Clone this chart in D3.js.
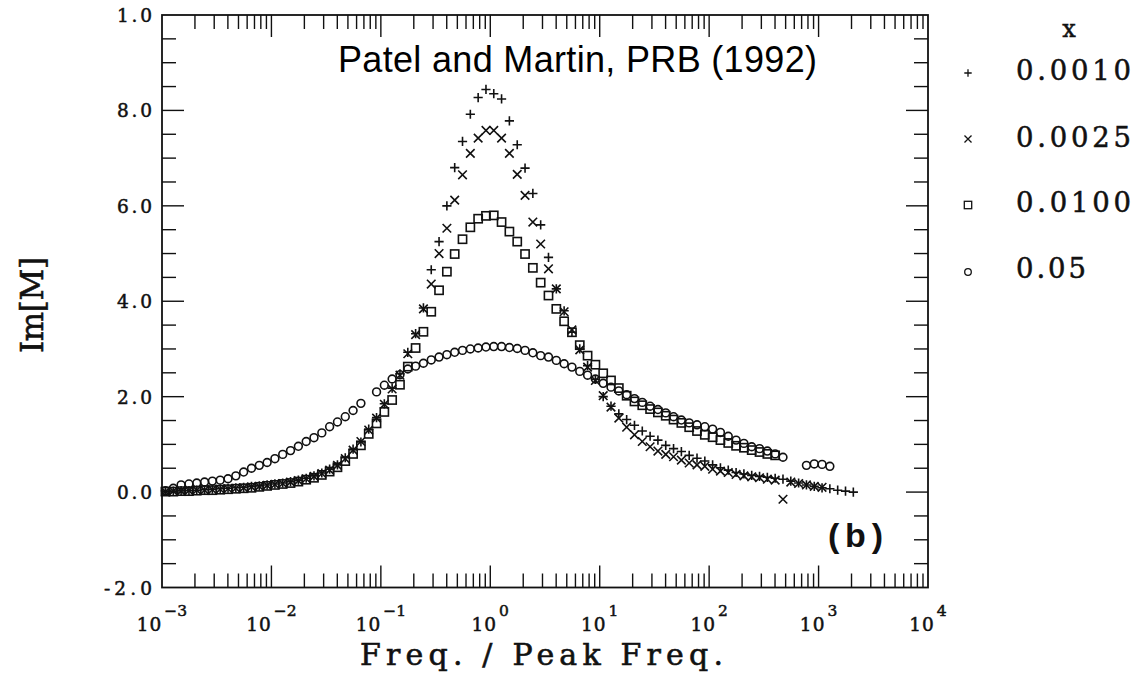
<!DOCTYPE html>
<html>
<head>
<meta charset="utf-8">
<script src="https://cdn.jsdelivr.net/npm/d3@7"></script>
<style>
  body { margin: 0; background: #fff; }
  svg { display: block; }
</style>
</head>
<body>
<svg id="chart" width="1140" height="682"></svg>
<script>
// ---- Data ----
const freq = [
  0.001076, 0.001268, 0.001495, 0.001763, 0.002078, 0.002449, 0.002887, 0.003403, 0.004012, 0.004729, 0.005575, 0.006572, 0.007747, 0.009132,
  0.01076, 0.01268, 0.01495, 0.01763, 0.02078, 0.02449, 0.02887, 0.03403, 0.04012, 0.04729, 0.05575, 0.06572, 0.07747, 0.09132,
  0.1076, 0.1268, 0.1495, 0.1763, 0.2078, 0.2449, 0.2887, 0.3403, 0.4012, 0.4729, 0.5575, 0.6572, 0.7747, 0.9132,
  1.076, 1.268, 1.495, 1.763, 2.078, 2.449, 2.887, 3.403, 4.012, 4.729, 5.575, 6.572, 7.747, 9.132,
  10.76, 12.68, 14.95, 17.63, 20.78, 24.49, 28.87, 34.03, 40.12, 47.29, 55.75, 65.72, 77.47, 91.32,
  107.6, 126.8, 149.5, 176.3, 207.8, 244.9, 288.7, 340.3, 401.2, 472.9, 557.5, 657.2, 774.7, 913.2,
  1076, 1268, 1495, 1763, 2078, 2449
];

const seriesLabels = ["0.0010", "0.0025", "0.0100", "0.05"];
const seriesSymbols = ["plus", "cross", "square", "circle"];

const valsX0010 = [
  0.02, 0.02, 0.03, 0.03, 0.04, 0.05, 0.06, 0.07, 0.08, 0.09, 0.10, 0.12, 0.13, 0.15,
  0.17, 0.19, 0.22, 0.25, 0.29, 0.34, 0.40, 0.48, 0.57, 0.72, 0.90, 1.05, 1.32, 1.56,
  1.85, 2.18, 2.48, 2.93, 3.32, 3.86, 4.66, 5.25, 6.00, 6.80, 7.35, 7.92, 8.27, 8.44,
  8.35, 8.24, 7.78, 7.28, 6.79, 6.26, 5.60, 4.92, 4.26, 3.80, 3.35, 3.00, 2.65, 2.36,
  2.00, 1.80, 1.64, 1.52, 1.40, 1.28, 1.17, 1.09, 0.98, 0.91, 0.85, 0.77, 0.71, 0.65,
  0.57, 0.51, 0.46, 0.41, 0.38, 0.35, 0.33, 0.31, 0.29, 0.27, 0.23, 0.19, 0.15, 0.12,
  0.09, 0.07, 0.04, 0.02, 0.00, null
];

const valsX0025 = [
  0.01, 0.02, 0.02, 0.03, 0.04, 0.04, 0.05, 0.06, 0.07, 0.08, 0.09, 0.11, 0.12, 0.14,
  0.16, 0.18, 0.21, 0.24, 0.28, 0.33, 0.39, 0.46, 0.56, 0.70, 0.88, 1.06, 1.30, 1.55,
  1.84, 2.16, 2.45, 2.90, 3.30, 3.84, 4.36, 5.00, 5.53, 6.12, 6.65, 7.10, 7.42, 7.58,
  7.58, 7.42, 7.10, 6.66, 6.22, 5.66, 5.20, 4.68, 4.26, 3.78, 3.40, 2.98, 2.62, 2.34,
  2.02, 1.78, 1.55, 1.36, 1.20, 1.06, 0.95, 0.86, 0.79, 0.74, 0.67, 0.61, 0.57, 0.54,
  0.48, 0.44, 0.41, 0.37, 0.34, 0.32, 0.30, 0.27, 0.25, -0.15, 0.21, 0.18, 0.15, 0.12,
  0.10, null, null, null, null, null
];

const valsX0100 = [
  0.01, 0.01, 0.02, 0.02, 0.03, 0.04, 0.04, 0.05, 0.06, 0.07, 0.08, 0.09, 0.11, 0.13,
  0.15, 0.17, 0.19, 0.22, 0.26, 0.30, 0.36, 0.43, 0.52, 0.65, 0.80, 0.98, 1.22, 1.44,
  1.68, 1.93, 2.25, 2.63, 3.02, 3.36, 3.78, 4.23, 4.62, 4.99, 5.30, 5.55, 5.73, 5.79,
  5.80, 5.66, 5.46, 5.25, 4.99, 4.70, 4.39, 4.12, 3.84, 3.58, 3.35, 3.08, 2.86, 2.67,
  2.49, 2.34, 2.18, 2.02, 1.90, 1.82, 1.74, 1.67, 1.60, 1.52, 1.45, 1.36, 1.28, 1.20,
  1.15, 1.09, 1.03, 0.97, 0.93, 0.88, 0.84, 0.80, 0.77, null, null, null, null, null,
  null, null, null, null, null, null
];

const valsX05 = [
  0.03, 0.08, 0.15, 0.17, 0.19, 0.21, 0.23, 0.25, 0.28, 0.34, 0.42, 0.50, 0.56, 0.62,
  0.70, 0.79, 0.87, 0.96, 1.06, 1.14, 1.24, 1.37, 1.47, 1.58, 1.71, 1.86, null, 2.10,
  2.24, 2.37, 2.46, 2.58, 2.64, 2.70, 2.77, 2.83, 2.88, 2.93, 2.97, 3.00, 3.02, 3.04,
  3.05, 3.05, 3.03, 3.01, 2.97, 2.92, 2.86, 2.83, 2.76, 2.69, 2.62, 2.53, 2.45, 2.37,
  2.28, 2.20, 2.12, 2.04, 1.96, 1.88, 1.80, 1.73, 1.66, 1.58, 1.51, 1.45, 1.41, 1.37,
  1.32, 1.25, 1.17, 1.09, 1.02, 0.95, 0.91, 0.86, 0.80, 0.73, null, null, 0.56, 0.59,
  0.58, 0.54, null, null, null, null
];

const yTickValues = [10, 8, 6, 4, 2, 0, -2];
const yTickLabels = ["1.0", "8.0", "6.0", "4.0", "2.0", "0.0", "-2.0"];
const xTickExponents = [-3, -2, -1, 0, 1, 2, 3, 4];

const annotation = "Patel and Martin, PRB (1992)";
const panelLabel = "(b)";
const xTitle = "Freq. / Peak Freq.";
const yTitle = "Im[M]";
const legendTitle = "x";

// ---- Layout ----
const svg = d3.select("#chart");
const L = 162, R = 928, T = 15, B = 587.5;
const x = d3.scaleLog().domain([1e-3, 1e4]).range([L, R]);
const y = d3.scaleLinear().domain([-2, 10]).range([B, T]);
const ink = "#111";
const serif = "'DejaVu Serif', 'Liberation Serif', serif";

function thicken(sel, w) {
  return sel.attr("stroke", ink).attr("stroke-width", w).attr("paint-order", "stroke");
}

// ---- Ticks ----
const tickG = svg.append("g").attr("stroke", ink).attr("stroke-width", 1.4);
const xMinor = [];
for (let d = -3; d < 4; d++) for (let m = 1; m <= 9; m++) xMinor.push({v: m * Math.pow(10, d), major: m === 1});
xMinor.filter(t => t.v > 1e-3 && t.v < 1e4).forEach(t => {
  const len = t.major ? 22 : 14;
  const px = x(t.v);
  tickG.append("line").attr("x1", px).attr("x2", px).attr("y1", B).attr("y2", B - len);
  tickG.append("line").attr("x1", px).attr("x2", px).attr("y1", T).attr("y2", T + len);
});
d3.range(-1.5, 10, 0.5).forEach(v => {
  const major = Math.abs(v % 2) < 1e-9;
  const len = major ? 22 : 14;
  const py = y(v);
  tickG.append("line").attr("x1", L).attr("x2", L + len).attr("y1", py).attr("y2", py);
  tickG.append("line").attr("x1", R).attr("x2", R - len).attr("y1", py).attr("y2", py);
});

// ---- Frame ----
svg.append("rect").attr("x", L).attr("y", T).attr("width", R - L).attr("height", B - T)
  .attr("fill", "none").attr("stroke", ink).attr("stroke-width", 1.8);

// ---- Y tick labels ----
yTickValues.forEach((v, i) => {
  const lab = yTickLabels[i];
  thicken(svg.append("text"), 0.5)
    .attr("x", 152).attr("y", y(v) + 7)
    .attr("text-anchor", "end")
    .attr("font-family", serif).attr("font-size", 18.5)
    .attr("textLength", lab.length === 4 ? 48 : 35)
    .attr("lengthAdjust", "spacing")
    .attr("fill", ink)
    .text(lab);
});

// ---- X tick labels (10^n) ----
xTickExponents.forEach(e => {
  const px = x(Math.pow(10, e));
  const t = thicken(svg.append("text"), 0.5)
    .attr("y", 631)
    .attr("font-family", serif).attr("fill", ink);
  t.append("tspan").attr("font-size", 18.5).attr("letter-spacing", 1).text("10");
  t.append("tspan").attr("font-size", 15.5).attr("dy", -15).attr("dx", 2)
    .text(e < 0 ? "\u2212" + Math.abs(e) : String(e));
  const w = t.node().getComputedTextLength();
  t.attr("x", px - w / 2 - 1);
});

// ---- Axis titles ----
thicken(svg.append("text"), 0.6)
  .attr("x", 360).attr("y", 665)
  .attr("font-family", serif).attr("font-size", 30)
  .attr("textLength", 363).attr("lengthAdjust", "spacing")
  .attr("fill", ink)
  .text(xTitle);

thicken(svg.append("text"), 0.6)
  .attr("transform", "translate(43,305) rotate(-90)")
  .attr("text-anchor", "middle")
  .attr("font-family", serif).attr("font-size", 31)
  .attr("textLength", 96).attr("lengthAdjust", "spacing")
  .attr("fill", ink)
  .text(yTitle);

// ---- Annotations ----
svg.append("text")
  .attr("x", 338).attr("y", 72)
  .attr("font-family", "'Liberation Sans', Arial, sans-serif").attr("font-size", 36)
  .attr("textLength", 479).attr("lengthAdjust", "spacing")
  .attr("fill", "#000")
  .text(annotation);

svg.append("text")
  .attr("x", 828).attr("y", 547)
  .attr("font-family", "'Liberation Sans', Arial, sans-serif").attr("font-size", 34)
  .attr("font-weight", "bold")
  .attr("textLength", 55).attr("lengthAdjust", "spacing")
  .attr("fill", ink)
  .text(panelLabel);

// ---- Symbols ----
function drawSymbol(g, type, cx, cy, s, sw) {
  if (type === "plus") {
    g.append("path").attr("d", `M${cx - s},${cy}H${cx + s}M${cx},${cy - s}V${cy + s}`)
      .attr("stroke", ink).attr("stroke-width", sw).attr("fill", "none");
  } else if (type === "cross") {
    const c = s * 0.95;
    g.append("path").attr("d", `M${cx - c},${cy - c}L${cx + c},${cy + c}M${cx - c},${cy + c}L${cx + c},${cy - c}`)
      .attr("stroke", ink).attr("stroke-width", sw).attr("fill", "none");
  } else if (type === "square") {
    g.append("rect").attr("x", cx - s).attr("y", cy - s).attr("width", 2 * s).attr("height", 2 * s)
      .attr("stroke", ink).attr("stroke-width", sw).attr("fill", "none");
  } else {
    g.append("circle").attr("cx", cx).attr("cy", cy).attr("r", s)
      .attr("stroke", ink).attr("stroke-width", sw).attr("fill", "none");
  }
}

const allSeries = [valsX0010, valsX0025, valsX0100, valsX05];
const markSize = {plus: 4.6, cross: 4.5, square: 4.1, circle: 3.9};
// draw circles and squares first, then crosses and pluses on top
[3, 2, 1, 0].forEach(si => {
  const g = svg.append("g").attr("class", "series-" + seriesLabels[si]);
  const sym = seriesSymbols[si];
  allSeries[si].forEach((v, i) => {
    if (v === null) return;
    drawSymbol(g, sym, x(freq[i]), y(v), markSize[sym], 1.6);
  });
});

// ---- Legend ----
thicken(svg.append("text"), 0.5)
  .attr("x", 1069).attr("y", 37).attr("text-anchor", "middle")
  .attr("font-family", serif).attr("font-size", 24)
  .attr("fill", ink).text(legendTitle);
const legendSymY = [73, 139, 205, 272];
const legendBase = [80, 146.5, 211.5, 278];
seriesLabels.forEach((lab, i) => {
  drawSymbol(svg, seriesSymbols[i], 968, legendSymY[i], seriesSymbols[i] === "circle" ? 3.3 : 3.7, 1.3);
  thicken(svg.append("text"), 0.5)
    .attr("x", 1016).attr("y", legendBase[i])
    .attr("font-family", serif).attr("font-size", 27.5)
    .attr("textLength", lab.length === 6 ? 115 : 70).attr("lengthAdjust", "spacing")
    .attr("fill", ink)
    .text(lab);
});
</script>
</body>
</html>
